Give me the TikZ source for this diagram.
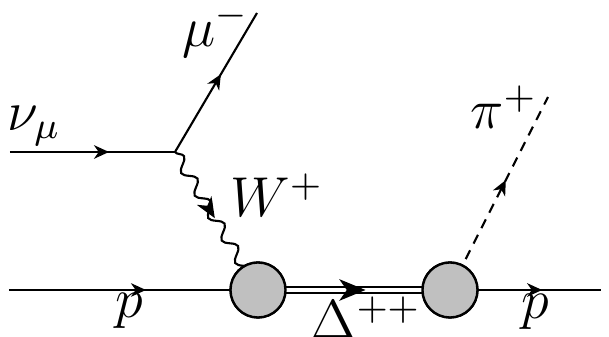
\documentclass[tikz,border=0pt]{standalone}
\usetikzlibrary{decorations.markings,decorations.pathmorphing,arrows.meta}
\definecolor{blobgray}{RGB}{192,192,192}
\begin{document}
\begin{tikzpicture}[x=0.2135pt,y=-0.2135pt,
  line width=0.45pt,
  farrow/.style={postaction={decorate},decoration={markings,mark=at position #1 with {\arrow{Stealth[length=3.2pt,width=2.9pt,inset=1pt]}}}},
  warrow/.style={postaction={decorate},decoration={markings,mark=at position #1 with {\arrow{Stealth[length=4.4pt,width=3.6pt,inset=1.3pt]}}}},
  darrow/.style={postaction={decorate},decoration={markings,mark=at position #1 with {\arrow{Stealth[length=5.6pt,width=4.6pt,inset=1.6pt]}}}},
  fermion/.style={draw},
  boson/.style={draw,decorate,decoration={snake,segment length=5.6pt,amplitude=1.2pt}},
  scalar/.style={draw,dash pattern=on 2.1pt off 1.6pt},
  dline/.style={draw,double,double distance=0.75pt,line width=0.42pt},
  blob/.style={circle,draw,fill=blobgray,line width=0.5pt,minimum size=11.74pt,inner sep=0pt},
  lab/.style={inner sep=0pt,font=\large}
]
\useasboundingbox (0,0) rectangle (609,337);
\coordinate (nuin) at (10,152);
\coordinate (v1) at (175,152);
\coordinate (muout) at (257,13);
\coordinate (pin) at (9,290);
\coordinate (pout) at (601,290);
\coordinate (piout) at (548,97);
\node[blob] (b1) at (258,290) {};
\node[blob] (b2) at (450,290) {};
% lines
\draw[fermion,farrow=0.6] (nuin) -- (v1);
\draw[fermion,farrow=0.56] (v1) -- (muout);
\draw[boson] (v1) -- (b1.center);
\path[warrow=0.48] (v1) -- (b1.center);
\draw[fermion,farrow=0.55] (pin) -- (b1.center);
\draw[dline] (b1.center) -- (b2.center);
\path[darrow=0.56] (b1.center) -- (b2.center);
\draw[fermion,farrow=0.61] (b2.center) -- (pout);
\draw[scalar] (b2.center) -- (piout);
\path[farrow=0.57] (b2.center) -- (piout);
% blobs on top
\node[blob] at (b1) {};
\node[blob] at (b2) {};
% labels
\node[lab] (lnu) at (34,126) {$\nu_\mu$};
\node[lab] (lmu) at (216,30) {$\mu^-$};
\node[lab] (lW) at (277,195) {$W^+$};
\node[lab] (lp1) at (129,311) {$p$};
\node[lab] (lD) at (366,318) {$\Delta^{++}$};
\node[lab] (lp2) at (535,312) {$p$};
\node[lab] (lpi) at (504,107) {$\pi^+$};
\end{tikzpicture}
\end{document}
